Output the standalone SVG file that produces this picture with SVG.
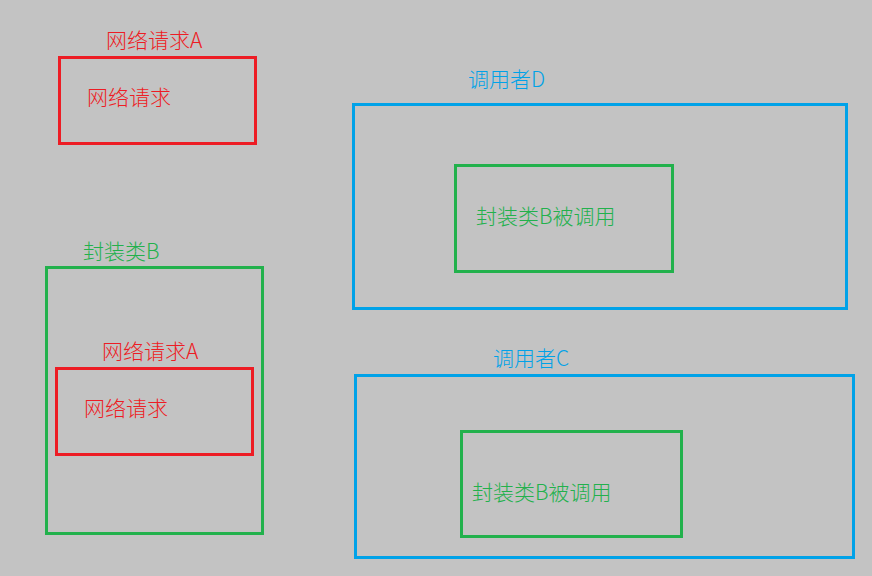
<svg xmlns="http://www.w3.org/2000/svg" width="872" height="576" viewBox="0 0 872 576">
<style>
.box{fill:none;stroke-width:3}
.r{stroke:#ED1C24}.g{stroke:#22B14C}.b{stroke:#00A2E8}
text{font-family:"Noto Sans CJK SC","Microsoft YaHei",sans-serif;font-size:21px;font-weight:300}
.tr{fill:#ED1C24}.tg{fill:#22B14C}.tb{fill:#00A2E8}
</style>
<rect width="872" height="576" fill="#C3C3C3"/>
<g id="netA">
<text class="tr" x="106" y="48">网络请求A</text>
<rect class="box r" x="59.5" y="57.5" width="196" height="86"/>
<text class="tr" x="87" y="105">网络请求</text>
</g>
<g id="wrapB">
<text class="tg" x="83" y="259">封装类B</text>
<rect class="box g" x="46.5" y="267.5" width="216" height="266"/>
<g id="netA2">
<text class="tr" x="102" y="359">网络请求A</text>
<rect class="box r" x="56.5" y="368.5" width="196" height="86"/>
<text class="tr" x="84" y="416">网络请求</text>
</g>
</g>
<g id="callerD">
<text class="tb" x="468" y="87">调用者D</text>
<rect class="box b" x="353.5" y="104.5" width="493" height="204"/>
<g id="wrapB_D">
<rect class="box g" x="455.5" y="165.5" width="217" height="106"/>
<text class="tg" x="476" y="224">封装类B被调用</text>
</g>
</g>
<g id="callerC">
<text class="tb" x="493" y="366">调用者C</text>
<rect class="box b" x="355.5" y="375.5" width="498" height="182"/>
<g id="wrapB_C">
<rect class="box g" x="461.5" y="431.5" width="220" height="105"/>
<text class="tg" x="472" y="500">封装类B被调用</text>
</g>
</g>
<g id="connectors"/>
</svg>
